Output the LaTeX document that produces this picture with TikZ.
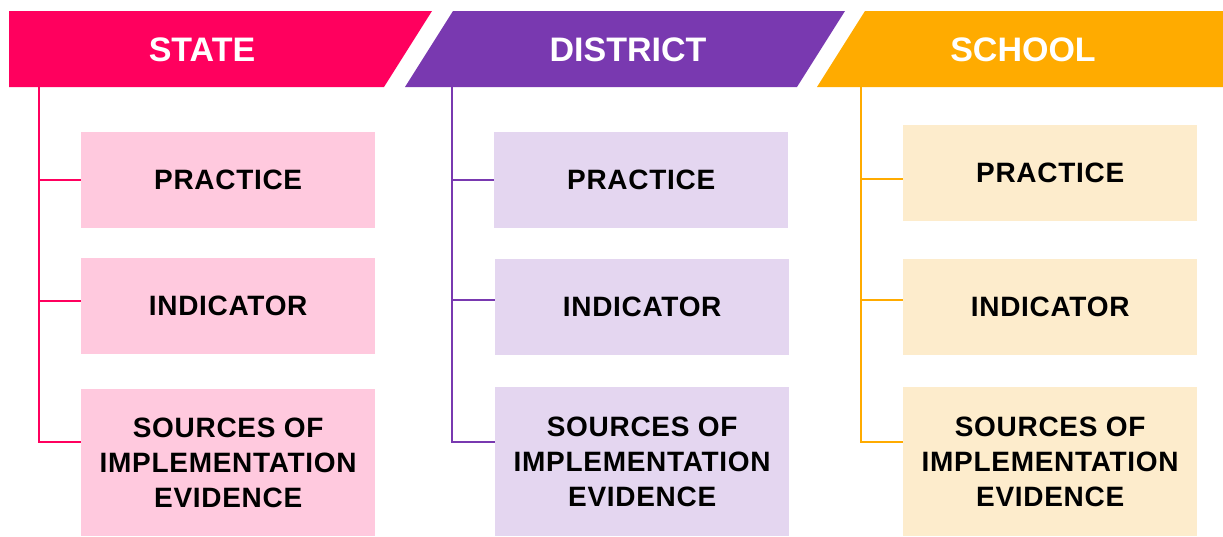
\documentclass[tikz,border=0pt]{standalone}
\usepackage{fontspec}
\setmainfont{Liberation Sans}
\newfontfamily\boxfont[LetterSpace=2.5]{Liberation Sans}

\definecolor{stateHead}{RGB}{255,0,94}
\definecolor{stateBox}{RGB}{255,201,222}
\definecolor{distHead}{RGB}{121,57,176}
\definecolor{distBox}{RGB}{228,214,240}
\definecolor{schoolHead}{RGB}{255,171,0}
\definecolor{schoolBox}{RGB}{253,236,204}

\begin{document}
\begin{tikzpicture}[x=1pt, y=-1pt,
  headtext/.style = {text=white, font=\fontsize{34}{40}\selectfont\bfseries},
  levelbox/.style = {anchor=north west, inner sep=0pt, minimum width=294pt,
                     minimum height=96pt, align=center,
                     font=\fontsize{28}{35}\boxfont\bfseries},
  spine/.style    = {line width=2pt}]

\useasboundingbox (0,0) rectangle (1223,536);

% headers
\fill[stateHead]  (9,11) -- (432,11) -- (384,87) -- (9,87) -- cycle;
\fill[distHead]   (453,11) -- (845,11) -- (797,87) -- (405,87) -- cycle;
\fill[schoolHead] (865,11) -- (1223,11) -- (1223,87) -- (817,87) -- cycle;

\node[headtext] (hState)  at (202,50)  {STATE};
\node[headtext] (hDist)   at (628,50)  {DISTRICT};
\node[headtext] (hSchool) at (1023,50) {SCHOOL};

% state column
\node[levelbox, fill=stateBox] (sPrac) at (81,132) {PRACTICE};
\node[levelbox, fill=stateBox] (sInd)  at (81,258) {INDICATOR};
\node[levelbox, fill=stateBox, minimum height=147pt] (sEvid) at (81,389)
     {SOURCES OF\\IMPLEMENTATION\\EVIDENCE};
\coordinate (sTop) at (39,87);
\coordinate (sMid) at (81,301);
\coordinate (sLow) at (81,442);
\draw[spine, stateHead] (sTop) |- (sLow);
\draw[spine, stateHead] (sTop |- sPrac.west) -- (sPrac.west);
\draw[spine, stateHead] (sTop |- sMid) -- (sMid);

% district column
\node[levelbox, fill=distBox] (dPrac) at (494,132) {PRACTICE};
\node[levelbox, fill=distBox] (dInd)  at (495,259) {INDICATOR};
\node[levelbox, fill=distBox, minimum height=149pt] (dEvid) at (495,387)
     {SOURCES OF\\IMPLEMENTATION\\EVIDENCE};
\coordinate (dTop) at (452,87);
\coordinate (dMid) at (495,300);
\coordinate (dLow) at (495,442);
\draw[spine, distHead] (dTop) |- (dLow);
\draw[spine, distHead] (dTop |- dPrac.west) -- (dPrac.west);
\draw[spine, distHead] (dTop |- dMid) -- (dMid);

% school column
\node[levelbox, fill=schoolBox] (cPrac) at (903,125) {PRACTICE};
\node[levelbox, fill=schoolBox] (cInd)  at (903,259) {INDICATOR};
\node[levelbox, fill=schoolBox, minimum height=149pt] (cEvid) at (903,387)
     {SOURCES OF\\IMPLEMENTATION\\EVIDENCE};
\coordinate (cTop) at (861,87);
\coordinate (cHigh) at (903,179);
\coordinate (cMid) at (903,300);
\coordinate (cLow) at (903,442);
\draw[spine, schoolHead] (cTop) |- (cLow);
\draw[spine, schoolHead] (cTop |- cHigh) -- (cHigh);
\draw[spine, schoolHead] (cTop |- cMid) -- (cMid);

\end{tikzpicture}
\end{document}
